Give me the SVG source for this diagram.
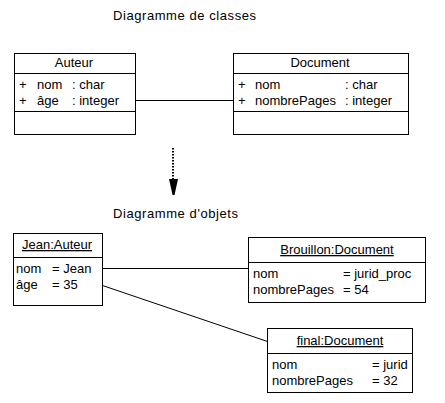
<svg xmlns="http://www.w3.org/2000/svg" width="445" height="403" viewBox="0 0 445 403">
<style>
text{font-family:"Liberation Sans",Arial,sans-serif;font-size:13px;fill:#000}
.box{fill:#fff;stroke:#000;stroke-width:1}
.ln{stroke:#000;stroke-width:1;fill:none}
.mid{text-anchor:middle}
.u{text-decoration:underline}
</style>
<rect width="445" height="403" fill="#fff"/>
<text x="113" y="20" textLength="143">Diagramme de classes</text>
<text x="113" y="218" textLength="125">Diagramme d'objets</text>
<g id="connectors">
<line class="ln" x1="135.5" y1="100.5" x2="233.5" y2="100.5"/>
<line x1="173" y1="148" x2="173" y2="180" stroke="#000" stroke-width="2" stroke-dasharray="1.5,1.5"/>
<polygon points="169,179 178,179 174.5,195 172.5,195" fill="#000"/>
<line class="ln" x1="102.5" y1="268.5" x2="248.5" y2="268.5"/>
<line class="ln" x1="102.5" y1="285.5" x2="267.5" y2="341.5"/>
</g>
<g id="Auteur">
<rect class="box" x="14.5" y="53.5" width="121" height="81"/>
<line class="ln" x1="14.5" y1="73.5" x2="135.5" y2="73.5"/>
<line class="ln" x1="14.5" y1="111.5" x2="135.5" y2="111.5"/>
<text class="mid" x="74" y="67">Auteur</text>
<text x="19" y="89">+</text><text x="37" y="89">nom</text><text x="72" y="89">: char</text>
<text x="19" y="105">+</text><text x="37" y="105">âge</text><text x="72" y="105">: integer</text>
</g>
<g id="Document">
<rect class="box" x="233.5" y="53.5" width="175" height="81"/>
<line class="ln" x1="233.5" y1="73.5" x2="408.5" y2="73.5"/>
<line class="ln" x1="233.5" y1="111.5" x2="408.5" y2="111.5"/>
<text class="mid" x="320" y="67">Document</text>
<text x="238" y="89">+</text><text x="255" y="89">nom</text><text x="345" y="89">: char</text>
<text x="238" y="105">+</text><text x="255" y="105">nombrePages</text><text x="345" y="105">: integer</text>
</g>
<g id="JeanAuteur">
<rect class="box" x="13.5" y="233.5" width="89" height="72"/>
<line class="ln" x1="13.5" y1="257.5" x2="102.5" y2="257.5"/>
<text class="mid u" x="57" y="249">Jean:Auteur</text>
<text x="16" y="273">nom</text><text x="52" y="273">= Jean</text>
<text x="16" y="289">âge</text><text x="52" y="289">= 35</text>
</g>
<g id="BrouillonDocument">
<rect class="box" x="248.5" y="237.5" width="177" height="65"/>
<line class="ln" x1="248.5" y1="262.5" x2="425.5" y2="262.5"/>
<text class="mid u" x="337" y="254">Brouillon:Document</text>
<text x="253" y="278">nom</text><text x="343" y="278">= jurid_proc</text>
<text x="253" y="294">nombrePages</text><text x="343" y="294">= 54</text>
</g>
<g id="finalDocument">
<rect class="box" x="267.5" y="328.5" width="145" height="64"/>
<line class="ln" x1="267.5" y1="353.5" x2="412.5" y2="353.5"/>
<text class="mid u" x="340" y="345">final:Document</text>
<text x="272" y="369">nom</text><text x="372" y="369">= jurid</text>
<text x="272" y="385">nombrePages</text><text x="372" y="385">= 32</text>
</g>
</svg>
